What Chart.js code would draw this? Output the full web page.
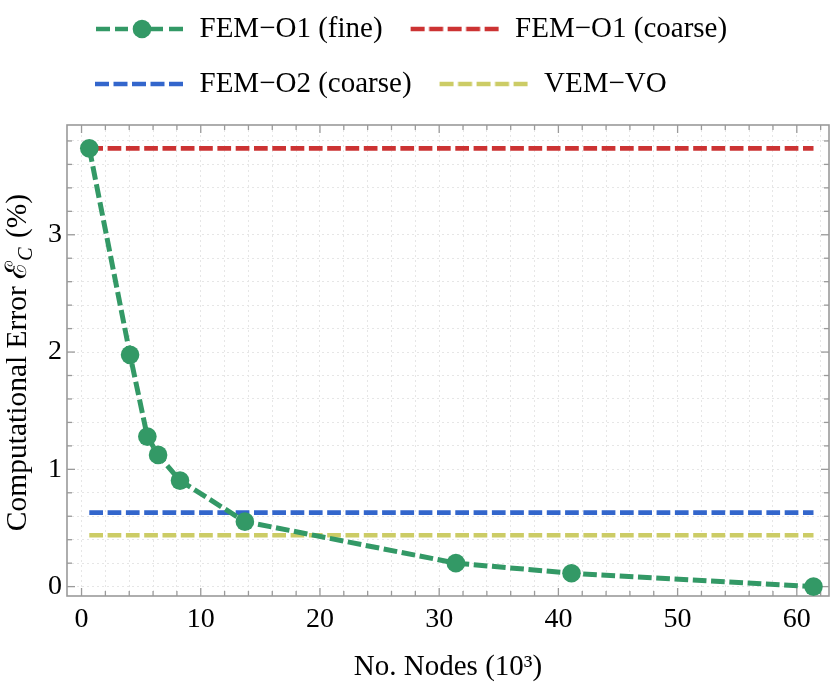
<!DOCTYPE html>
<html><head><meta charset="utf-8">
<script src="https://cdn.jsdelivr.net/npm/chart.js@4.4.1/dist/chart.umd.min.js"></script>
<style>html,body{margin:0;padding:0;background:#fff}canvas{display:block}</style>
</head><body>
<canvas id="c" width="830" height="690"></canvas>
<script>
// ---- data ----
const nodes = [0.65, 4.07, 5.52, 6.42, 8.26, 13.7, 31.4, 41.1, 61.4];
const femO1Fine = [3.737, 1.976, 1.279, 1.123, 0.904, 0.554, 0.200, 0.114, 0.000];
const femO1Coarse = 3.737;
const femO2Coarse = 0.631;
const vemVO = 0.438;
const seriesNames = ['FEM−O1 (fine)', 'FEM−O1 (coarse)', 'FEM−O2 (coarse)', 'VEM−VO'];
const seriesColors = ['#339966', '#cc3333', '#3366cc', '#cccc66'];
const xMajorTicks = [0, 10, 20, 30, 40, 50, 60];
const yMajorTicks = [0, 1, 2, 3];
const xMinorStep = 2, yMinorStep = 0.2;
const xTitle = 'No. Nodes (10³)';
const yTitleMain = 'Computational Error ', yTitleSym = 'ℰ', yTitleSub = 'C', yTitleUnit = ' (%)';

const FONT = 'Liberation Serif';
const near = (a, b) => Math.abs(a - b) < 1e-6;
const isMajorX = v => xMajorTicks.some(m => near(m, v));
const isMajorY = v => yMajorTicks.some(m => near(m, v));

// legend symbols
function legendSymbol(color, withMarker) {
  const c = document.createElement('canvas');
  c.width = 100; c.height = 24;
  const g = c.getContext('2d');
  g.strokeStyle = color; g.fillStyle = color; g.lineWidth = 4.5; g.lineCap = 'butt';
  const s = 6, cy = 12;
  const segs = withMarker ? [[1, 15], [20, 33], [38, 68], [74, 88]]
                          : [[0, 14], [18.5, 32.5], [37, 51], [55.5, 69.5], [74, 88]];
  segs.forEach(([a, b]) => { g.beginPath(); g.moveTo(s + a, cy); g.lineTo(s + b, cy); g.stroke(); });
  if (withMarker) { g.beginPath(); g.arc(s + 47, cy, 9.3, 0, Math.PI * 2); g.fill(); }
  return c;
}
const symbols = seriesColors.map((c, i) => legendSymbol(c, i === 0));

const hLine = v => [{ x: nodes[0], y: v }, { x: nodes[nodes.length - 1], y: v }];

const dash = [13.7, 4.6];
const datasets = [
  { label: seriesNames[0], data: nodes.map((x, i) => ({ x, y: femO1Fine[i] })),
    borderColor: seriesColors[0], backgroundColor: seriesColors[0], borderWidth: 5, borderDash: dash,
    pointRadius: 9.3, pointBorderWidth: 0, pointBackgroundColor: seriesColors[0], tension: 0 },
  { label: seriesNames[1], data: hLine(femO1Coarse), borderColor: seriesColors[1], borderWidth: 4.6, borderDash: dash, pointRadius: 0 },
  { label: seriesNames[2], data: hLine(femO2Coarse), borderColor: seriesColors[2], borderWidth: 4.6, borderDash: dash, pointRadius: 0 },
  { label: seriesNames[3], data: hLine(vemVO), borderColor: seriesColors[3], borderWidth: 4.6, borderDash: dash, pointRadius: 0 }
];

const framePlugin = {
  id: 'frame',
  beforeDatasetsDraw(chart) {
    const { ctx, chartArea: a, scales: { x, y } } = chart;
    ctx.save();
    ctx.strokeStyle = '#9a9a9a';
    ctx.lineWidth = 1.3;
    const ln = (x1, y1, x2, y2) => { ctx.beginPath(); ctx.moveTo(x1, y1); ctx.lineTo(x2, y2); ctx.stroke(); };
    x.ticks.forEach(t => {
      const p = x.getPixelForValue(t.value), L = isMajorX(t.value) ? 8 : 5;
      ln(p, a.bottom, p, a.bottom - L); ln(p, a.top, p, a.top + L);
    });
    y.ticks.forEach(t => {
      const p = y.getPixelForValue(t.value), L = isMajorY(t.value) ? 8 : 5;
      ln(a.left, p, a.left + L, p); ln(a.right, p, a.right - L, p);
    });
    ctx.lineWidth = 1.6;
    ctx.strokeRect(a.left, a.top, a.right - a.left, a.bottom - a.top);
    ctx.restore();
  },
  afterDraw(chart) {
    const { ctx, chartArea: a } = chart;
    ctx.save();
    const cy = (a.top + a.bottom) / 2 + 2;
    ctx.translate(26, cy);
    ctx.rotate(-Math.PI / 2);
    ctx.fillStyle = '#000';
    ctx.textBaseline = 'alphabetic';
    ctx.textAlign = 'left';
    const fMain = `29.5px "${FONT}"`, fSym = `29.5px "DejaVu Serif", "${FONT}"`, fSub = `italic 20px "${FONT}"`;
    ctx.font = fMain; const w1 = ctx.measureText(yTitleMain).width, w4 = ctx.measureText(yTitleUnit).width;
    ctx.font = fSym; const w2 = ctx.measureText(yTitleSym).width;
    ctx.font = fSub; const w3 = ctx.measureText(yTitleSub).width;
    let xx = -(w1 + w2 + w3 + 2 + w4) / 2;
    ctx.font = fMain; ctx.fillText(yTitleMain, xx, 0); xx += w1;
    ctx.font = fSym; ctx.fillText(yTitleSym, xx, 0); xx += w2;
    ctx.font = fSub; ctx.fillText(yTitleSub, xx, 6); xx += w3 + 2;
    ctx.font = fMain; ctx.fillText(yTitleUnit, xx, 0);
    ctx.restore();
  }
};

new Chart(document.getElementById('c'), {
  type: 'line',
  data: { datasets },
  plugins: [framePlugin],
  options: {
    responsive: false,
    animation: false,
    layout: { autoPadding: false, padding: { top: -11.5, left: 0, right: 1, bottom: 0 } },
    plugins: {
      tooltip: { enabled: false },
      title: { display: true, text: '', weight: 500, font: { size: 1, lineHeight: 1 }, padding: { top: 8, bottom: 7.5 } },
      legend: {
        position: 'top', fullSize: false, align: 'start',
        labels: {
          usePointStyle: true, pointStyleWidth: 92, padding: 26,
          font: { family: FONT, size: 29 }, color: '#000',
          generateLabels: (chart) => chart.data.datasets.map((ds, i) => ({
            text: ds.label, pointStyle: symbols[i], fillStyle: 'rgba(0,0,0,0)',
            strokeStyle: 'rgba(0,0,0,0)', lineWidth: 0, hidden: false, datasetIndex: i
          }))
        }
      }
    },
    scales: {
      x: {
        type: 'linear', min: -1.22, max: 62.7,
        afterBuildTicks: s => { const t = []; for (let v = 0; v <= 62 + 1e-9; v += xMinorStep) t.push({ value: Math.round(v * 1000) / 1000 }); s.ticks = t; },
        afterFit: s => { s.height = 94; },
        ticks: { autoSkip: false, maxRotation: 0, padding: 7, color: '#000', font: { family: FONT, size: 28 },
          callback: v => isMajorX(v) ? String(Math.round(v)) : '' },
        grid: { color: '#e6e6e6', lineWidth: 1, drawTicks: false },
        border: { display: false, dash: [2, 3] },
        title: { display: true, text: xTitle, color: '#000', font: { family: FONT, size: 29 }, padding: { top: 0, bottom: 5 } }
      },
      y: {
        type: 'linear', min: -0.08, max: 3.936,
        afterBuildTicks: s => { const t = []; for (let k = 0; k <= 19; k++) t.push({ value: Math.round(k * yMinorStep * 1000) / 1000 }); s.ticks = t; },
        afterFit: s => { s.width = 67; },
        ticks: { autoSkip: false, padding: 5, color: '#000', font: { family: FONT, size: 28 },
          callback: v => isMajorY(v) ? String(Math.round(v)) : '' },
        grid: { color: '#e6e6e6', lineWidth: 1, drawTicks: false },
        border: { display: false, dash: [2, 3] }
      }
    }
  }
});
</script>
</body></html>
